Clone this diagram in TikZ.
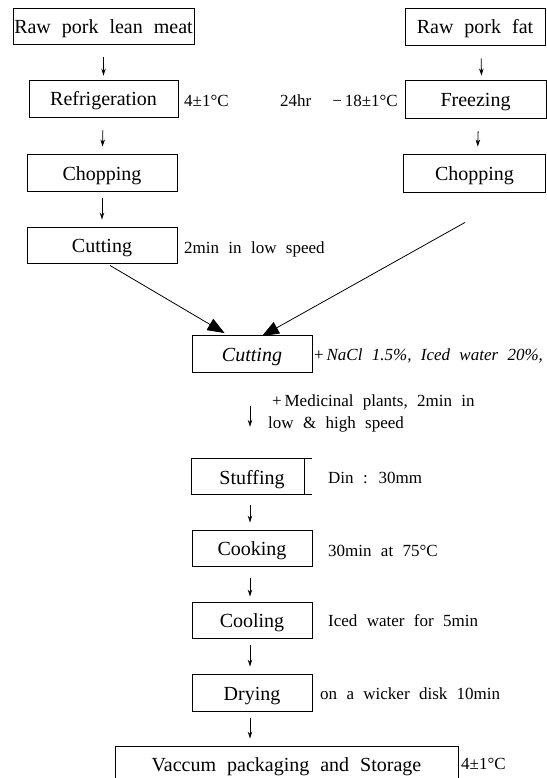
\documentclass[tikz,border=0pt]{standalone}
\usepackage{fontspec}
\setmainfont{Liberation Serif}[WordSpace=2.2]
\usetikzlibrary{arrows.meta,calc}
\begin{document}
\begin{tikzpicture}[x=1pt,y=-1pt,
  box/.style={draw, line width=0.9pt, inner sep=0pt, text height=15pt, text depth=0pt, font=\fontsize{20}{22}\selectfont},
  plain/.style={inner sep=0pt, text height=15pt, text depth=0pt, font=\fontsize{20}{22}\selectfont},
  side/.style={inner sep=0pt, anchor=west, text height=12pt, text depth=0pt, font=\fontsize{17}{22}\selectfont},
  arr/.style={-{Stealth[length=7pt,width=4.5pt]}, line width=0.8pt},
  bigarr/.style={-{Triangle[length=17pt,width=13pt]}, line width=0.8pt}]
\useasboundingbox (0,0) rectangle (546,778);

% left column
\node[box, minimum width=181pt, minimum height=36pt] (raw) at (103.5,26) {Raw pork lean meat};
\node[box, minimum width=149pt, minimum height=37pt] (refr) at (103.5,98.5) {Refrigeration};
\node[box, minimum width=150pt, minimum height=37pt] (chopL) at (102,172.5) {Chopping};
\node[box, minimum width=150pt, minimum height=36pt] (cutL) at (102,245) {Cutting};

% right column
\node[box, minimum width=140pt, minimum height=37pt] (fat) at (475,26.5) {Raw pork fat};
\node[box, minimum width=141pt, minimum height=38pt] (frz) at (475.5,99) {Freezing};
\node[box, minimum width=142pt, minimum height=38pt] (chopR) at (474.5,173) {Chopping};

% centre column
\node[box, minimum width=120pt, minimum height=37pt] (cutC) at (252,354) {\itshape Cutting};
\node[plain, minimum width=120pt, minimum height=35pt] (stuff) at (252,476.5) {Stuffing};
\draw[line width=0.9pt] (stuff.north east) -- (stuff.north west) -- (stuff.south west) -- (stuff.south east);
\draw[line width=0.9pt] ([shift={(-8,0)}]stuff.north east) -- ([shift={(-8,0)}]stuff.south east);
\node[box, minimum width=120pt, minimum height=36pt] (cook) at (252,548) {Cooking};
\node[box, minimum width=120pt, minimum height=36pt] (cool) at (252,620) {Cooling};
\node[box, minimum width=120pt, minimum height=37pt] (dry) at (252,692.5) {Drying};
\node[box, minimum width=343pt, minimum height=36pt] (vac) at (286.5,764) {Vaccum packaging and Storage};

% side texts
\node[side] (t1) at (184,101) {4±1°C};
\node[side] (t2) at (280,101) {24hr};
\node[side, anchor=east] (t3) at (398,101) {−\,18±1°C};
\node[side] (t4) at (184,247) {2min in low speed};
\node[side] (t5) at (314,354) {+\,\itshape NaCl 1.5\%, Iced water 20\%,};
\node[side, anchor=north west, align=left, text height=] (t6) at (268,395) {\hspace{4pt}+\,Medicinal plants, 2min in\\low \& high speed};
\node[side] (t7) at (328,477) {Din : 30mm};
\node[side] (t8) at (328,550) {30min at 75°C};
\node[side] (t9) at (328,620) {Iced water for 5min};
\node[side] (t10) at (320,693) {on a wicker disk 10min};
\node[side] (t11) at (461,763) {4±1°C};

% small arrows
\draw[arr, shorten <=13pt, shorten >=4pt] (raw) -- (refr);
\draw[arr, shorten <=13pt, shorten >=7pt] (refr) -- (chopL);
\draw[arr, shorten <=7pt, shorten >=7pt] (chopL) -- (cutL);
\draw[arr, shorten <=13pt, shorten >=4pt] ([shift={(6,0)}]fat.south) -- ([shift={(6,0)}]frz.north);
\draw[arr, shorten <=13pt, shorten >=7pt] ([shift={(3,0)}]frz.south) -- ([shift={(3,0)}]chopR.north);
\draw[arr, shorten <=33pt, shorten >=32pt] ([shift={(-2,0)}]cutC.south) -- ([shift={(-2,0)}]stuff.north);
\draw[arr, shorten <=11pt, shorten >=7pt] ([shift={(-2,0)}]stuff.south) -- ([shift={(-2,0)}]cook.north);
\draw[arr, shorten <=12pt, shorten >=5pt] ([shift={(-2,0)}]cook.south) -- ([shift={(-2,0)}]cool.north);
\draw[arr, shorten <=7pt, shorten >=7pt] ([shift={(-2,0)}]cool.south) -- ([shift={(-2,0)}]dry.north);
\draw[arr, shorten <=7pt, shorten >=7pt] ([shift={(-2,0)}]dry.south) -- ([shift={(-2,0)}]dry.south |- vac.north);

% converging arrows
\draw[bigarr] ([shift={(8,2)}]cutL.south) -- ([shift={(33,-2)}]cutC.north west);
\draw[bigarr] ([shift={(-9.5,30)}]chopR.south) -- ([shift={(10,1)}]cutC.north);
\end{tikzpicture}
\end{document}
